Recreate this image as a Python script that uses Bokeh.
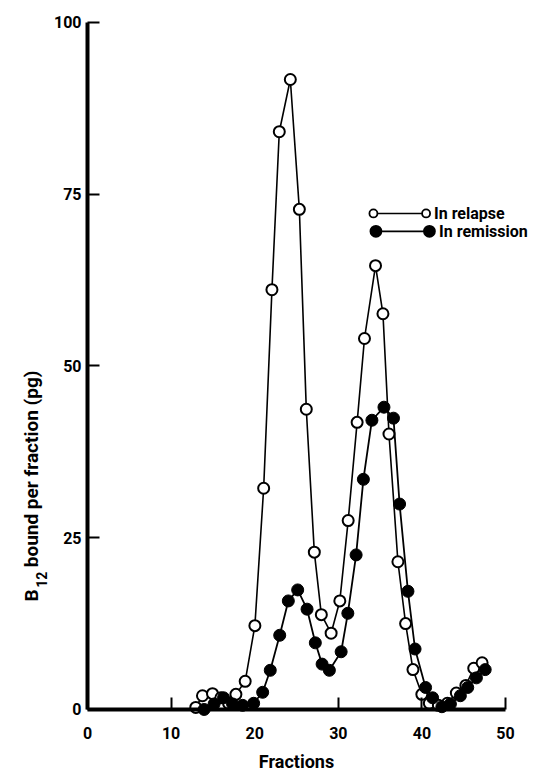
import math
from bokeh.plotting import figure
from bokeh.models import Range1d, FixedTicker, Label, ColumnDataSource
from bokeh.embed import file_html
from bokeh.resources import INLINE

# ---- data ----
relapse_fraction = [12.95, 13.75, 14.95, 15.95, 16.87, 17.75, 18.86, 20.02, 21.07, 22.06,
                    22.94, 24.26, 25.34, 26.17, 27.13, 27.97, 29.14, 30.18, 31.18, 32.25,
                    33.13, 34.45, 35.34, 36.06, 37.13, 38.05, 38.93, 39.99, 40.89, 41.97,
                    43.05, 44.12, 45.26, 46.2, 47.2]
relapse_b12 = [0.3, 2.0, 2.3, 1.7, 0.9, 2.2, 4.1, 12.2, 32.2, 61.1,
               84.1, 91.7, 72.8, 43.7, 22.9, 13.8, 11.1, 15.8, 27.5, 41.8,
               54.0, 64.6, 57.6, 40.1, 21.5, 12.5, 5.8, 2.2, 0.9, 0.6,
               0.9, 2.4, 3.5, 6.0, 6.8]

remission_fraction = [13.95, 15.14, 16.27, 17.35, 18.55, 19.87, 20.95, 21.86, 22.99, 24.02,
                      25.14, 26.26, 27.25, 28.06, 28.93, 30.34, 31.14, 32.13, 33.0, 34.02,
                      35.46, 36.6, 37.33, 38.33, 39.18, 40.44, 41.28, 42.39, 43.41, 44.6,
                      45.48, 46.52, 47.57]
remission_b12 = [0.0, 0.8, 1.7, 0.8, 0.6, 0.9, 2.5, 5.7, 10.8, 15.8,
                 17.4, 14.6, 9.7, 6.6, 5.7, 8.4, 14.0, 22.5, 33.5, 42.1,
                 44.0, 42.4, 29.9, 17.2, 8.8, 3.2, 1.7, 0.4, 0.8, 2.0,
                 3.2, 4.6, 5.8]

x_ticks = [0, 10, 20, 30, 40, 50]
y_ticks = [0, 25, 50, 75, 100]
series_names = ["In relapse", "In remission"]
x_title = "Fractions"
y_title_main = "B"
y_title_sub = "12"
y_title_rest = "bound  per fraction (pg)"

FONT = "Roboto"

# the frame covers the whole canvas; the axes sit at x=0 / y=0 with bounds
W, H = 530, 771
p = figure(frame_width=W, frame_height=H,
           x_range=Range1d(-10.41, 52.99), y_range=Range1d(-9.03, 103.20),
           output_backend="svg", toolbar_location=None,
           min_border_left=0, min_border_right=0, min_border_top=0, min_border_bottom=0)
p.outline_line_color = None
p.grid.visible = False
p.background_fill_color = "white"

for ax, ticks, bnds in ((p.xaxis, x_ticks, (0, 50)), (p.yaxis, y_ticks, (0, 100))):
    ax.ticker = FixedTicker(ticks=ticks)
    ax.fixed_location = 0
    ax.bounds = bnds
    ax.axis_line_width = 4
    ax.axis_line_color = "black"
    ax.major_tick_line_width = 2
    ax.major_tick_line_color = "black"
    ax.major_tick_in = 12
    ax.major_tick_out = 0
    ax.minor_tick_line_color = None
    ax.major_label_text_font = FONT
    ax.major_label_text_font_style = "bold"
    ax.major_label_text_font_size = "16px"
    ax.major_label_text_color = "black"

p.xaxis.major_label_standoff = 18
p.yaxis.major_label_standoff = 6
p.xaxis.axis_label = x_title
p.xaxis.axis_label_text_font = FONT
p.xaxis.axis_label_text_font_style = "bold"
p.xaxis.axis_label_text_font_size = "18px"
p.xaxis.axis_label_standoff = 8
p.xaxis.axis_label_text_color = "black"

rel = ColumnDataSource(dict(x=relapse_fraction, y=relapse_b12))
rem = ColumnDataSource(dict(x=remission_fraction, y=remission_b12))

p.line("x", "y", source=rel, line_color="black", line_width=1.6)
p.line("x", "y", source=rem, line_color="black", line_width=1.8)
p.scatter("x", "y", source=rel, marker="circle", size=11, fill_color="white",
          line_color="black", line_width=2)
p.scatter("x", "y", source=rem, marker="circle", size=12, fill_color="black",
          line_color="black", line_width=1)

# ---- y axis title, rotated, with subscript ----
def lab(text, x, y, size):
    p.add_layout(Label(x=x, y=y, text=text, angle=math.pi / 2,
                       text_font=FONT, text_font_style="bold",
                       text_font_size=size, text_align="left",
                       text_baseline="middle", text_color="black"))

lab(y_title_main, -6.70, 15.7, "19px")
lab(y_title_sub, -5.50, 17.7, "14px")
lab(y_title_rest, -6.70, 20.7, "19px")

# ---- legend (drawn manually: marker - line - marker, then text) ----
leg_rows = [(72.2, 34.2, 40.5, "white", 8, 0.95), (69.6, 34.5, 40.9, "black", 11, 1.15)]
for (ly, x1, x2, fill, sz, gap), name in zip(leg_rows, series_names):
    p.line([x1, x2], [ly, ly], line_color="black", line_width=1.6)
    p.scatter([x1, x2], [ly, ly], marker="circle", size=sz, fill_color=fill,
              line_color="black", line_width=1.8)
    p.add_layout(Label(x=x2 + gap, y=ly, text=name, text_font=FONT,
                       text_font_style="bold", text_font_size="16px",
                       text_baseline="middle", text_color="black"))

open("out.html", "w").write(file_html(p, INLINE))
